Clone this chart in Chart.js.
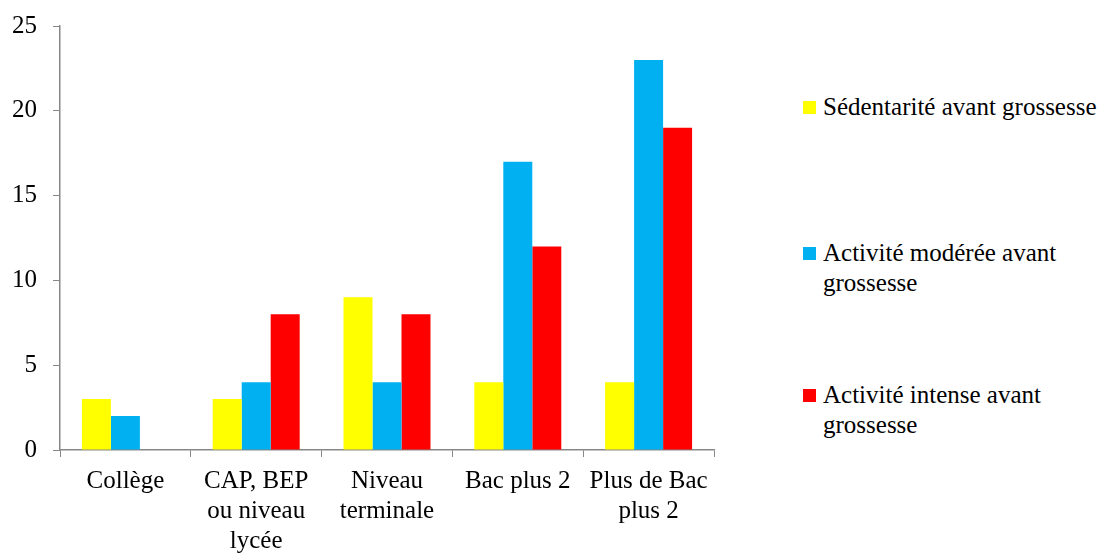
<!DOCTYPE html>
<html lang="fr">
<head>
<meta charset="utf-8">
<script src="https://cdn.jsdelivr.net/npm/chart.js@4/dist/chart.umd.min.js"></script>
<style>
    html, body { margin: 0; padding: 0; background: #fff; }
    body { width: 1117px; height: 553px; position: relative; overflow: hidden; font-family: "Liberation Serif", "Times New Roman", serif; }
    #wrap { position: absolute; left: 0; top: 0; width: 740px; height: 553px; }
    #legend { position: absolute; left: 803px; top: 0; width: 314px; color: #000; font-size: 25px; line-height: 30px; }
    .item { position: absolute; left: 0; display: flex; white-space: nowrap; }
    .box { width: 13px; height: 13px; margin-top: 9px; margin-right: 7px; flex: none; }
</style>
</head>
<body>
<div id="wrap"><canvas id="chart"></canvas></div>
<div id="legend"></div>
<script>
const categories = ['Collège', ['CAP, BEP', 'ou niveau', 'lycée'], ['Niveau', 'terminale'], 'Bac plus 2', ['Plus de Bac', 'plus 2']];
const sedentarite = [3, 3, 9, 4, 4];
const moderee = [2, 4, 4, 17, 23];
const intense = [0, 8, 8, 12, 19];
const yTicks = [0, 5, 10, 15, 20, 25];

const seriesNames = [['Sédentarité avant grossesse'], ['Activité modérée avant', 'grossesse'], ['Activité intense avant', 'grossesse']];
const seriesColors = ['#FFFF00', '#00B0F0', '#FF0000'];
const legendTops = [92, 238, 380];

const axisColor = '#878787';

const ctx = document.getElementById('chart').getContext('2d');
const chart = new Chart(ctx, {
    type: 'bar',
    data: {
        labels: categories,
        datasets: [sedentarite, moderee, intense].map((d, i) => ({
            label: seriesNames[i].join(' '),
            data: d,
            backgroundColor: seriesColors[i],
            borderWidth: 0,
            barPercentage: 1,
            categoryPercentage: 0.665
        }))
    },
    options: {
        responsive: true,
        maintainAspectRatio: false,
        animation: false,
        layout: { padding: { top: 9, right: 26, left: 0, bottom: 0 } },
        plugins: { legend: { display: false }, tooltip: { enabled: false } },
        scales: {
            x: {
                grid: { display: true, drawOnChartArea: false, drawTicks: true, tickLength: 7, color: axisColor, offset: true },
                border: { color: axisColor, width: 1.5 },
                ticks: { color: '#000', font: { family: 'Liberation Serif', size: 25, lineHeight: 1.2 }, maxRotation: 0, autoSkip: false, padding: 9 },
                afterFit: s => { s.height = 103; }
            },
            y: {
                min: 0,
                max: 25,
                afterBuildTicks: s => { s.ticks = yTicks.map(v => ({ value: v })); },
                grid: { display: true, drawOnChartArea: false, drawTicks: true, tickLength: 7, color: axisColor },
                border: { color: axisColor, width: 1.5 },
                ticks: { color: '#000', font: { family: 'Liberation Serif', size: 25, lineHeight: 0.8 }, padding: 16 },
                afterFit: s => { s.width = 60; }
            }
        }
    }
});

// legend on the right, wrapped like the original
const legend = document.getElementById('legend');
seriesNames.forEach((lines, i) => {
    const item = document.createElement('div');
    item.className = 'item';
    item.style.top = legendTops[i] + 'px';
    item.innerHTML = `<span class="box" style="background:${seriesColors[i]}"></span><span>${lines.join('<br>')}</span>`;
    legend.appendChild(item);
});
</script>
</body>
</html>
